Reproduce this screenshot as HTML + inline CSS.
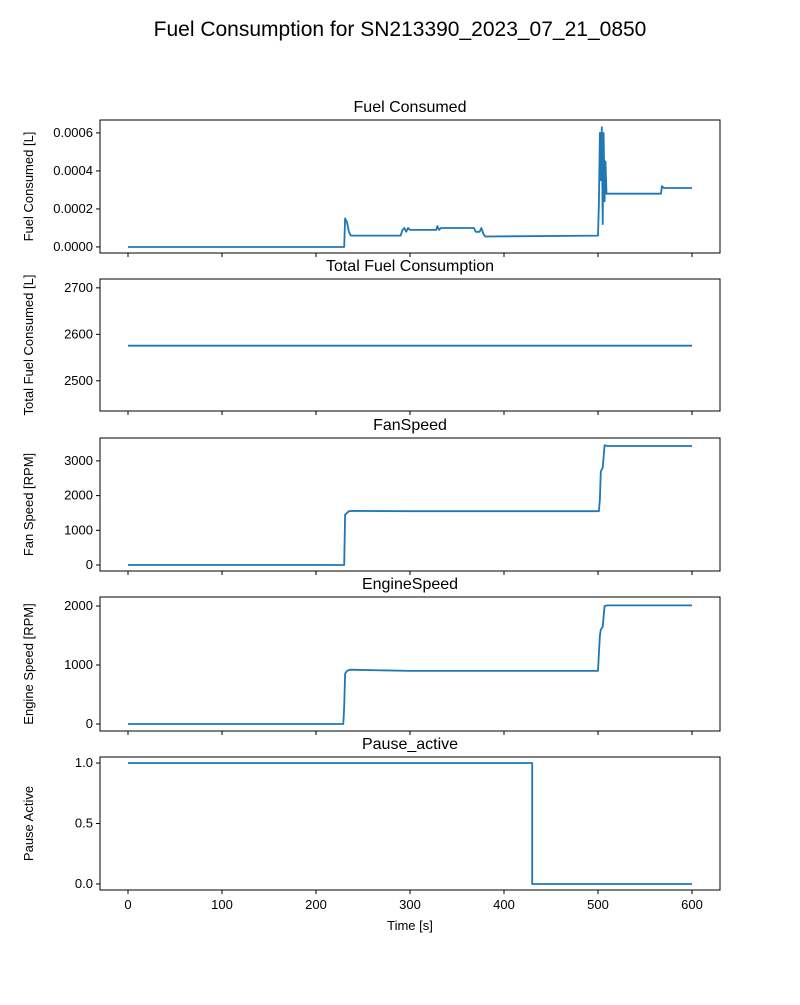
<!DOCTYPE html>
<html><head><meta charset="utf-8"><style>body{margin:0;background:#fff}svg text{font-family:"Liberation Sans","DejaVu Sans",sans-serif}</style></head>
<body>
<svg id="c" width="800" height="1000">
<text x="400" y="36" text-anchor="middle" font-size="21">Fuel Consumption for SN213390_2023_07_21_0850</text>
</svg>
<script>
const xTicks=[0,100,200,300,400,500,600];
const fuelT=[0,230,231,233,235,237,290,292,294,296,298,300,328,329,331,333,350,368,370,374,376,378,380,500,501,502,503,504,505,506,507,508,509,510,567,568,570,600];
const fuelV=[0,0,0.00015,0.00013,0.00008,0.00006,0.00006,0.00009,0.0001,0.00008,0.0001,0.00009,0.00009,0.00011,0.00009,0.0001,0.0001,0.0001,0.00008,0.00008,0.0001,0.00007,0.000055,0.00006,0.00023,0.0006,0.00035,0.00063,0.00012,0.0006,0.00024,0.00045,0.00028,0.00028,0.00028,0.00032,0.00031,0.00031];
const totalT=[0,600];
const totalV=[2575.5,2575.5];
const fanT=[0,230,231,235,240,300,310,500,501,502,503,505,507,510,600];
const fanV=[0,0,1450,1550,1560,1550,1550,1550,1550,1900,2700,2800,3450,3430,3430];
const engT=[0,229,230,231,233,236,300,310,500,501,502,503,505,507,510,600];
const engV=[0,0,300,850,900,920,900,900,900,1200,1500,1600,1650,2000,2010,2010];
const pauseT=[0,430,430,600];
const pauseV=[1,1,0,0];
const panels=[
 {title:"Fuel Consumed",ylabel:"Fuel Consumed [L]",top:120,bot:253,ymin:-0.0000318,ymax:0.000668,ticks:[0,0.0002,0.0004,0.0006],fmt:v=>v.toFixed(4),t:fuelT,v:fuelV,name:"fuel-consumed"},
 {title:"Total Fuel Consumption",ylabel:"Total Fuel Consumed [L]",top:279,bot:411,ymin:2435,ymax:2719,ticks:[2500,2600,2700],fmt:v=>String(v),t:totalT,v:totalV,name:"total-fuel"},
 {title:"FanSpeed",ylabel:"Fan Speed [RPM]",top:438,bot:571,ymin:-173,ymax:3660,ticks:[0,1000,2000,3000],fmt:v=>String(v),t:fanT,v:fanV,name:"fan-speed"},
 {title:"EngineSpeed",ylabel:"Engine Speed [RPM]",top:597,bot:731,ymin:-119,ymax:2153,ticks:[0,1000,2000],fmt:v=>String(v),t:engT,v:engV,name:"engine-speed"},
 {title:"Pause_active",ylabel:"Pause Active",top:757,bot:890,ymin:-0.05,ymax:1.05,ticks:[0,0.5,1],fmt:v=>v.toFixed(1),t:pauseT,v:pauseV,name:"pause-active"}
];
const svg=document.getElementById('c');const NS="http://www.w3.org/2000/svg";
const L=100,R=720;
const xs=t=>L+(t+29.8)/(659.6)*(R-L);
function mk(tag,attrs,parent,txt){const e=document.createElementNS(NS,tag);for(const k in attrs)e.setAttribute(k,attrs[k]);if(txt!==undefined)e.textContent=txt;(parent||svg).appendChild(e);return e;}
panels.forEach((p,i)=>{
 const g=mk('g',{});
 
 
 const ys=v=>p.bot-(v-p.ymin)/(p.ymax-p.ymin)*(p.bot-p.top);
 const pts=p.t.map((t,j)=>xs(t).toFixed(1)+','+ys(p.v[j]).toFixed(1)).join(' ');
 const line=mk('polyline',{points:pts,fill:'none',stroke:'#1f77b4','stroke-width':1.8,'stroke-linejoin':'round'},g);
 
 
 const fr=mk('rect',{x:L,y:p.top,width:R-L,height:p.bot-p.top,fill:'none',stroke:'#000','stroke-width':1},g);
 
 
 const tt=mk('text',{x:(L+R)/2,y:p.top-8,'text-anchor':'middle','font-size':16},g,p.title);
 
 
 p.ticks.forEach(v=>{const y=ys(v);mk('line',{x1:L-4,x2:L,y1:y,y2:y,stroke:'#000'},g);
  const lb=mk('text',{x:L-7,y:y+4,'text-anchor':'end','font-size':13},g,p.fmt(v));
  
  });
 const yc=(p.top+p.bot)/2;
 const yl=mk('text',{x:33,y:yc,'text-anchor':'middle','font-size':13,transform:`rotate(-90 33 ${yc})`},g,p.ylabel);
 
 
 xTicks.forEach(t=>{const x=xs(t);mk('line',{x1:x,x2:x,y1:p.bot,y2:p.bot+4,stroke:'#000'},g);
  if(i===panels.length-1){const lb=mk('text',{x:x,y:p.bot+19,'text-anchor':'middle','font-size':13},g,String(t));
   
   }});
});
const xt=mk('text',{x:410,y:930,'text-anchor':'middle','font-size':13},svg,'Time [s]');


</script>
</body></html>
